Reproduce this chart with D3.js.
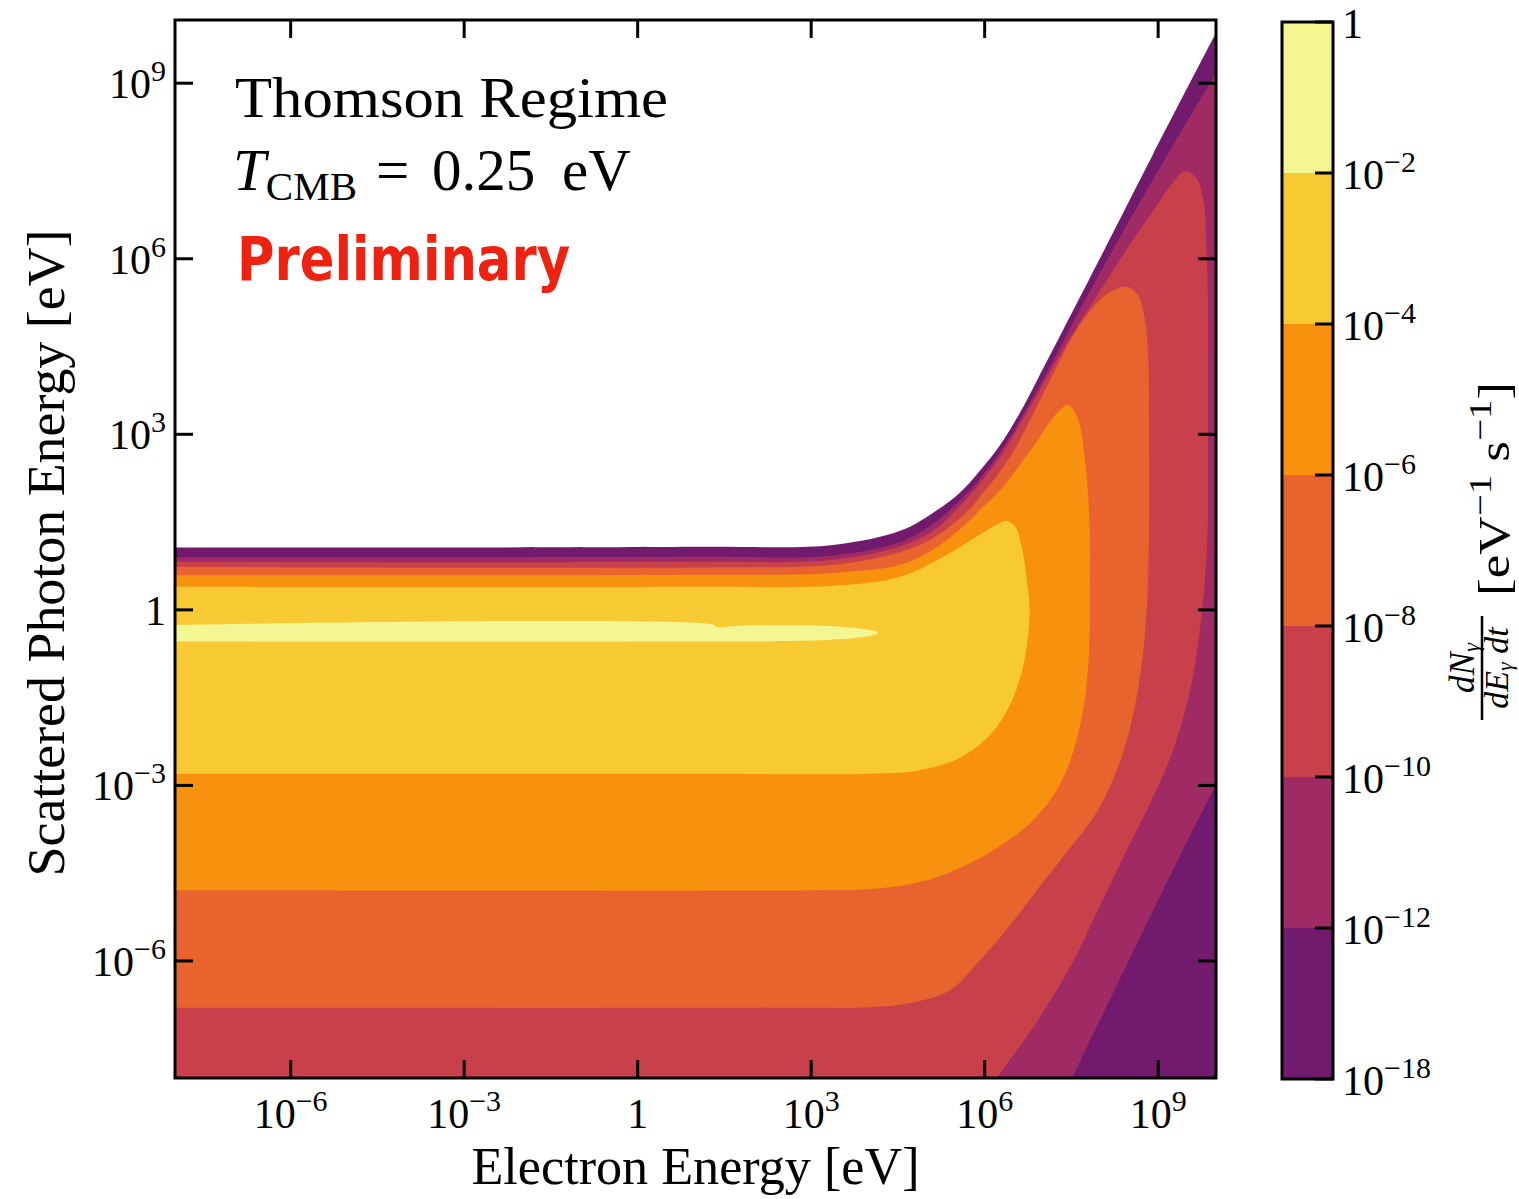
<!DOCTYPE html>
<html>
<head>
<meta charset="utf-8">
<script src="https://cdn.jsdelivr.net/npm/d3@7"></script>
<style>
  html, body { margin: 0; padding: 0; background: #fff; }
  svg { display: block; font-family: "Liberation Serif", "Times New Roman", serif; }
</style>
</head>
<body>
<script>
// contour levels of dN/dE dt [eV^-1 s^-1] (exponents) and fill colours
var levelExp = [-18, -12, -10, -8, -6, -4, -2, 0];
var bandColors = ["#721a6e", "#a02a63", "#c8404a", "#e8632e", "#f7910e", "#f7c932", "#f3f691"];

// axis ticks (exponents of 10)
var xTickExp = [-6, -3, 0, 3, 6, 9];
var yTickExp = [-6, -3, 0, 3, 6, 9];

// contour lines, as [log10 Ee, log10 Egamma]
// >= 1e-18 : outer envelope
var c18 = [[-8, 1.065], [1.08, 1.077], [3.38, 1.11], [4.54, 1.35], [5.11, 1.66], [5.57, 2.00],
  [5.97, 2.44], [6.27, 2.82], [6.61, 3.37], [6.91, 3.93], [8.00, 6.02], [8.91, 7.78], [10.0, 9.86]];
// >= 1e-12 : upper line, then lower-right line
var c12Upper = [[-8, 0.90], [1.08, 0.906], [3.38, 0.93], [4.54, 1.16], [5.11, 1.47], [5.70, 2.00],
  [5.97, 2.31], [6.27, 2.70], [6.91, 3.76], [7.74, 5.30], [8.51, 6.67], [9.21, 7.86], [9.90, 9.01],
  [10.0, 9.18]];
var c12Lower = [[10.0, -2.99], [9.43, -4.10], [8.44, -6.10], [7.51, -8]];
// >= 1e-10
var c10 = [[-8, 0.82], [1.08, 0.82], [3.38, 0.855], [4.54, 1.085], [5.11, 1.35], [5.70, 1.91],
  [5.97, 2.23], [6.27, 2.62], [6.84, 3.56], [7.30, 4.36], [7.87, 5.26], [8.43, 6.12], [8.98, 6.92],
  [9.24, 7.28], [9.46, 7.50], [9.66, 7.38], [9.78, 7.01], [9.83, 6.32], [9.86, 5.30], [9.86, 3.93],
  [9.86, 2.74], [9.85, 1.20], [9.76, 0.0], [9.59, -1.20], [9.29, -2.31], [8.89, -3.25], [8.46, -4.10],
  [7.96, -5.13], [7.48, -6.10], [6.87, -7.09], [6.21, -8]];
// >= 1e-8
var c8 = [[-8, 0.735], [1.08, 0.726], [3.38, 0.77], [4.54, 0.99], [5.11, 1.23], [5.70, 1.68],
  [5.97, 2.00], [6.27, 2.37], [6.53, 2.76], [6.84, 3.35], [7.13, 3.93], [7.56, 4.74], [7.91, 5.21],
  [8.20, 5.45], [8.46, 5.52], [8.65, 5.38], [8.77, 4.96], [8.83, 4.27], [8.84, 3.25], [8.84, 1.20],
  [8.79, -0.17], [8.65, -1.37], [8.38, -2.48], [7.96, -3.42], [7.42, -4.14], [6.96, -4.72],
  [6.44, -5.39], [5.89, -6.02], [5.40, -6.50], [4.80, -6.70], [4.02, -6.79], [2.81, -6.80], [-8, -6.80]];
// >= 1e-6
var c6 = [[-8, 0.593], [1.08, 0.598], [3.38, 0.632], [4.54, 0.77], [5.11, 1.03], [5.70, 1.49],
  [5.97, 1.76], [6.27, 2.05], [6.84, 2.79], [7.18, 3.28], [7.44, 3.50], [7.60, 3.30], [7.74, 2.51],
  [7.81, 1.54], [7.82, 0.513], [7.79, -0.974], [7.65, -1.97], [7.34, -2.91], [6.87, -3.56],
  [6.27, -4.03], [5.57, -4.41], [4.88, -4.65], [4.02, -4.77], [3.15, -4.79], [-8, -4.79]];
// >= 1e-4
var c4 = [[-8, 0.393], [1.08, 0.393], [3.38, 0.41], [4.54, 0.564], [5.40, 0.97], [5.97, 1.32],
  [6.27, 1.49], [6.39, 1.52], [6.53, 1.42], [6.65, 1.03], [6.75, 0.342], [6.78, -0.051],
  [6.73, -0.598], [6.65, -1.03], [6.44, -1.62], [6.09, -2.14], [5.57, -2.53], [4.88, -2.74],
  [4.02, -2.80], [1.08, -2.80], [-8, -2.80]];
// >= 1e-2
var c2 = [[-8, -0.256], [1.29, -0.248], [1.36, -0.29], [1.77, -0.27], [2.81, -0.265], [3.67, -0.30],
  [4.05, -0.35], [4.16, -0.393], [4.05, -0.44], [3.67, -0.49], [2.81, -0.53], [1.08, -0.542], [-8, -0.542]];

var regions = [[c18], [c12Upper, c12Lower], [c10], [c8], [c6], [c4], [c2]];

// ---------------------------------------------------------------
var W = 1519, H = 1199;
var pL = 175, pR = 1216, pT = 20, pB = 1078;
var xMinExp = -8, xMaxExp = 10, yMinExp = -8, yMaxExp = 10.08;

var svg = d3.select("body").append("svg").attr("width", W).attr("height", H);

var x = d3.scaleLog().domain([Math.pow(10, xMinExp), Math.pow(10, xMaxExp)]).range([pL, pR]);
var y = d3.scaleLog().domain([Math.pow(10, yMinExp), Math.pow(10, yMaxExp)]).range([pB, pT]);

svg.append("clipPath").attr("id", "plotclip")
  .append("rect").attr("x", pL).attr("y", pT).attr("width", pR - pL).attr("height", pB - pT);

var line = d3.line()
  .x(function (d) { return x(Math.pow(10, d[0])); })
  .y(function (d) { return y(Math.pow(10, d[1])); })
  .curve(d3.curveCatmullRom.alpha(0.5));

// join the contour pieces and close the region along the frame
function regionPath(pieces) {
  var s = "";
  pieces.forEach(function (p, i) {
    var d = line(p);
    s += i === 0 ? d : "L" + d.slice(1);
  });
  var lastPiece = pieces[pieces.length - 1];
  var last = lastPiece[lastPiece.length - 1];
  var onRight = last[0] >= xMaxExp - 1e-6;
  var onBottom = last[1] <= yMinExp + 1e-6;
  if (onRight) s += "L" + pR + "," + pB;
  if (onRight || onBottom) s += "L" + pL + "," + pB;
  return s + "Z";
}

var plot = svg.append("g").attr("clip-path", "url(#plotclip)");
plot.selectAll("path.band")
  .data(regions)
  .enter()
  .append("path")
  .attr("class", "band")
  .attr("d", regionPath)
  .attr("fill", function (d, i) { return bandColors[i]; });

// tick label helper: 10^n with superscript
function expLabel(sel, e, supSize) {
  if (e === 0) { sel.text("1"); return; }
  sel.append("tspan").text("10");
  sel.append("tspan").attr("font-size", supSize).attr("dy", -17)
    .text((e < 0 ? "\u2212" : "") + Math.abs(e));
}

var tickLen = 18;
var axes = svg.append("g").attr("stroke", "#000").attr("stroke-width", 3);
// x ticks (bottom and top, inward)
xTickExp.forEach(function (e) {
  var px = x(Math.pow(10, e));
  axes.append("line").attr("x1", px).attr("x2", px).attr("y1", pB).attr("y2", pB - tickLen);
  axes.append("line").attr("x1", px).attr("x2", px).attr("y1", pT).attr("y2", pT + tickLen);
});
yTickExp.forEach(function (e) {
  var py = y(Math.pow(10, e));
  axes.append("line").attr("x1", pL).attr("x2", pL + tickLen).attr("y1", py).attr("y2", py);
  axes.append("line").attr("x1", pR).attr("x2", pR - tickLen).attr("y1", py).attr("y2", py);
});
svg.append("rect").attr("x", pL).attr("y", pT).attr("width", pR - pL).attr("height", pB - pT)
  .attr("fill", "none").attr("stroke", "#000").attr("stroke-width", 3);

// tick labels
svg.selectAll("text.xt").data(xTickExp).enter().append("text")
  .attr("class", "xt")
  .attr("x", function (e) { return x(Math.pow(10, e)); })
  .attr("y", 1128)
  .attr("text-anchor", "middle")
  .attr("font-size", 42)
  .each(function (e) { expLabel(d3.select(this), e, 30); });

svg.selectAll("text.yt").data(yTickExp).enter().append("text")
  .attr("class", "yt")
  .attr("x", 166)
  .attr("y", function (e) { return y(Math.pow(10, e)) + 15; })
  .attr("text-anchor", "end")
  .attr("font-size", 42)
  .each(function (e) { expLabel(d3.select(this), e, 30); });

// axis titles
svg.append("text").attr("x", (pL + pR) / 2).attr("y", 1184).attr("text-anchor", "middle")
  .attr("font-size", 52).attr("textLength", 448).attr("lengthAdjust", "spacingAndGlyphs")
  .text("Electron Energy [eV]");
svg.append("text").attr("transform", "translate(64,553) rotate(-90)")
  .attr("text-anchor", "middle").attr("font-size", 52)
  .attr("textLength", 647).attr("lengthAdjust", "spacingAndGlyphs")
  .text("Scattered Photon Energy [eV]");

// annotations
svg.append("text").attr("x", 235).attr("y", 117).attr("font-size", 58)
  .attr("textLength", 433).attr("lengthAdjust", "spacingAndGlyphs").text("Thomson Regime");
var tc = svg.append("text").attr("y", 190).attr("font-size", 59);
tc.append("tspan").attr("x", 233).attr("font-style", "italic").text("T");
tc.append("tspan").attr("font-size", 41).attr("dy", 10).text("CMB");
tc.append("tspan").attr("x", 376).attr("dy", -10).text("=");
tc.append("tspan").attr("x", 432).text("0.25");
tc.append("tspan").attr("x", 562).text("eV");
svg.append("text").attr("x", 237).attr("y", 280).attr("font-size", 60)
  .attr("font-family", "'DejaVu Sans', sans-serif").attr("font-weight", "bold")
  .attr("fill", "#ee2211").attr("textLength", 333).attr("lengthAdjust", "spacingAndGlyphs")
  .text("Preliminary");

// colour bar
var cbLeft = 1282, cbRight = 1333, cbTop = 22, cbBottom = 1079;
var cb = d3.scaleLinear().domain([0, levelExp.length - 1]).range([cbBottom, cbTop]);
svg.selectAll("rect.cb").data(bandColors).enter().append("rect")
  .attr("class", "cb")
  .attr("x", cbLeft)
  .attr("width", cbRight - cbLeft)
  .attr("y", function (d, i) { return cb(i + 1); })
  .attr("height", function (d, i) { return cb(i) - cb(i + 1); })
  .attr("fill", function (d) { return d; });
var cbAx = svg.append("g").attr("stroke", "#000").attr("stroke-width", 3);
levelExp.forEach(function (e, i) {
  cbAx.append("line").attr("x1", cbRight).attr("x2", cbRight - tickLen)
    .attr("y1", cb(i)).attr("y2", cb(i));
});
svg.append("rect").attr("x", cbLeft).attr("y", cbTop).attr("width", cbRight - cbLeft)
  .attr("height", cbBottom - cbTop).attr("fill", "none").attr("stroke", "#000").attr("stroke-width", 3);
svg.selectAll("text.ct").data(levelExp).enter().append("text")
  .attr("class", "ct")
  .attr("x", 1342)
  .attr("y", function (e, i) { return cb(i) + 16; })
  .attr("font-size", 42)
  .each(function (e) { expLabel(d3.select(this), e, 30); });

// colour bar title
var cbt = svg.append("g").attr("transform", "translate(1487,550) rotate(-90)");
var brk = cbt.append("text").attr("x", 61).attr("y", 22).attr("text-anchor", "middle").attr("font-size", 44)
  .attr("textLength", 214).attr("lengthAdjust", "spacingAndGlyphs");
brk.append("tspan").text("[eV");
brk.append("tspan").attr("font-size", 32).attr("dy", -18).text("\u22121");
brk.append("tspan").attr("dy", 18).text(" s");
brk.append("tspan").attr("font-size", 32).attr("dy", -18).text("\u22121");
brk.append("tspan").attr("dy", 18).text("]");
var num = cbt.append("text").attr("x", -118).attr("y", -13).attr("text-anchor", "middle")
  .attr("font-size", 35).attr("font-style", "italic");
num.append("tspan").text("dN");
num.append("tspan").attr("font-size", 23).attr("dy", 5).text("\u03b3");
cbt.append("line").attr("x1", -170).attr("x2", -66).attr("y1", -5).attr("y2", -5)
  .attr("stroke", "#000").attr("stroke-width", 2.5);
var den = cbt.append("text").attr("x", -118).attr("y", 21).attr("text-anchor", "middle")
  .attr("font-size", 34).attr("font-style", "italic");
den.append("tspan").text("dE");
den.append("tspan").attr("font-size", 22).attr("dy", 4).text("\u03b3");
den.append("tspan").attr("dy", -4).text(" dt");
</script>
</body>
</html>
